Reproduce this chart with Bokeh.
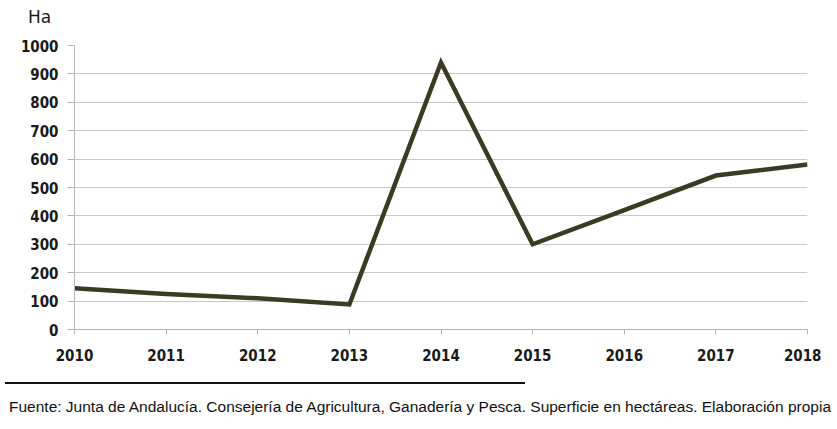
from bokeh.plotting import figure
from bokeh.models import Div, FixedTicker, Range1d
from bokeh.layouts import column
from bokeh.embed import file_html
from bokeh.resources import INLINE

years = [2010, 2011, 2012, 2013, 2014, 2015, 2016, 2017, 2018]
hectares = [145, 125, 110, 88, 940, 300, 420, 542, 581]
y_ticks = [0, 100, 200, 300, 400, 500, 600, 700, 800, 900, 1000]
unit_label = "Ha"
source_note = ("Fuente: Junta de Andalucía. Consejería de Agricultura, Ganadería y Pesca. "
               "Superficie en hectáreas. Elaboración propia")

header = Div(text=unit_label, width=821, height=30,
             styles={"font-family": "DejaVu Sans", "font-size": "17px", "line-height": "20px",
                     "color": "#1a1a1a", "padding-top": "7px", "padding-left": "28px",
                     "margin": "0px"})

p = figure(width=821, height=342, output_backend="svg", toolbar_location=None,
           x_range=Range1d(2010, 2018), y_range=Range1d(0, 1000),
           min_border_left=74, min_border_right=14, min_border_top=15, min_border_bottom=43)
p.outline_line_color = None
p.background_fill_color = "white"
p.border_fill_color = "white"

p.line(years, hectares, line_color="#3b3b24", line_width=4.5, line_join="miter")

p.xaxis.ticker = FixedTicker(ticks=years)
p.yaxis.ticker = FixedTicker(ticks=y_ticks)
for ax in (p.xaxis[0], p.yaxis[0]):
    ax.axis_line_color = "#b5b5b5"
    ax.major_tick_line_color = "#b5b5b5"
    ax.minor_tick_line_color = None
    ax.major_label_text_font = "DejaVu Sans Condensed"
    ax.major_label_text_font_style = "bold"
    ax.major_label_text_font_size = "15px"
    ax.major_label_text_color = "#1a1a1a"
p.yaxis.major_tick_out = 7
p.yaxis.major_tick_in = 0
p.xaxis.major_tick_out = 5
p.xaxis.major_tick_in = 0
p.xaxis.major_label_standoff = 14
p.yaxis.major_label_standoff = 9
p.xgrid.grid_line_color = None
p.ygrid.grid_line_color = "#c8c8c8"

footer = Div(text=source_note, width=821, height=40,
             styles={"font-family": "Liberation Sans", "font-size": "15.5px",
                     "color": "#111", "border-top": "2px solid #111",
                     "margin-top": "10px",
                     "padding-top": "12px", "padding-left": "4px", "width": "520px",
                     "white-space": "nowrap"})

layout = column(header, p, footer, spacing=0)
open("out.html", "w").write(file_html(layout, INLINE))
